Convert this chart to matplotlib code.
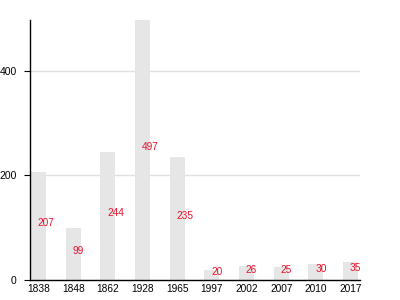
import matplotlib
matplotlib.use("Agg")
import matplotlib.pyplot as plt

years = ["1838", "1848", "1862", "1928", "1965", "1997", "2002", "2007", "2010", "2017"]
values = [207, 99, 244, 497, 235, 20, 26, 25, 30, 35]
yticks = [0, 200, 400]

plt.rcParams['font.family'] = ['Liberation Sans', 'DejaVu Sans']

fig = plt.figure(figsize=(4, 3), dpi=100)
ax = fig.add_axes([30/400, 20/300, 330/400, 260/300])

x = list(range(len(years)))
ax.bar(x, values, width=0.43, color="#e6e6e6", zorder=2)
for xi, v in zip(x, values):
    ax.text(xi - 0.02, v / 2, str(v), color="#e8112d", fontsize=7.3,
            ha="left", va="baseline", zorder=3)

ax.set_xlim(-0.245, 9.27)
ax.set_ylim(0, 497)
ax.set_xticks(x)
ax.set_xticklabels(years, fontsize=7.3)
ax.set_yticks(yticks)
ax.set_yticklabels([str(t) for t in yticks], fontsize=7.5)
ax.tick_params(axis="x", length=0, pad=3)
ax.tick_params(axis="y", length=4.5, width=0.8, pad=5)
ax.grid(axis="y", color="#e0e0e0", linewidth=1, zorder=1)
for s in ["top", "right"]:
    ax.spines[s].set_visible(False)
ax.spines["left"].set_linewidth(1)
ax.spines["bottom"].set_linewidth(1)

fig.savefig("out.png", dpi=100)
